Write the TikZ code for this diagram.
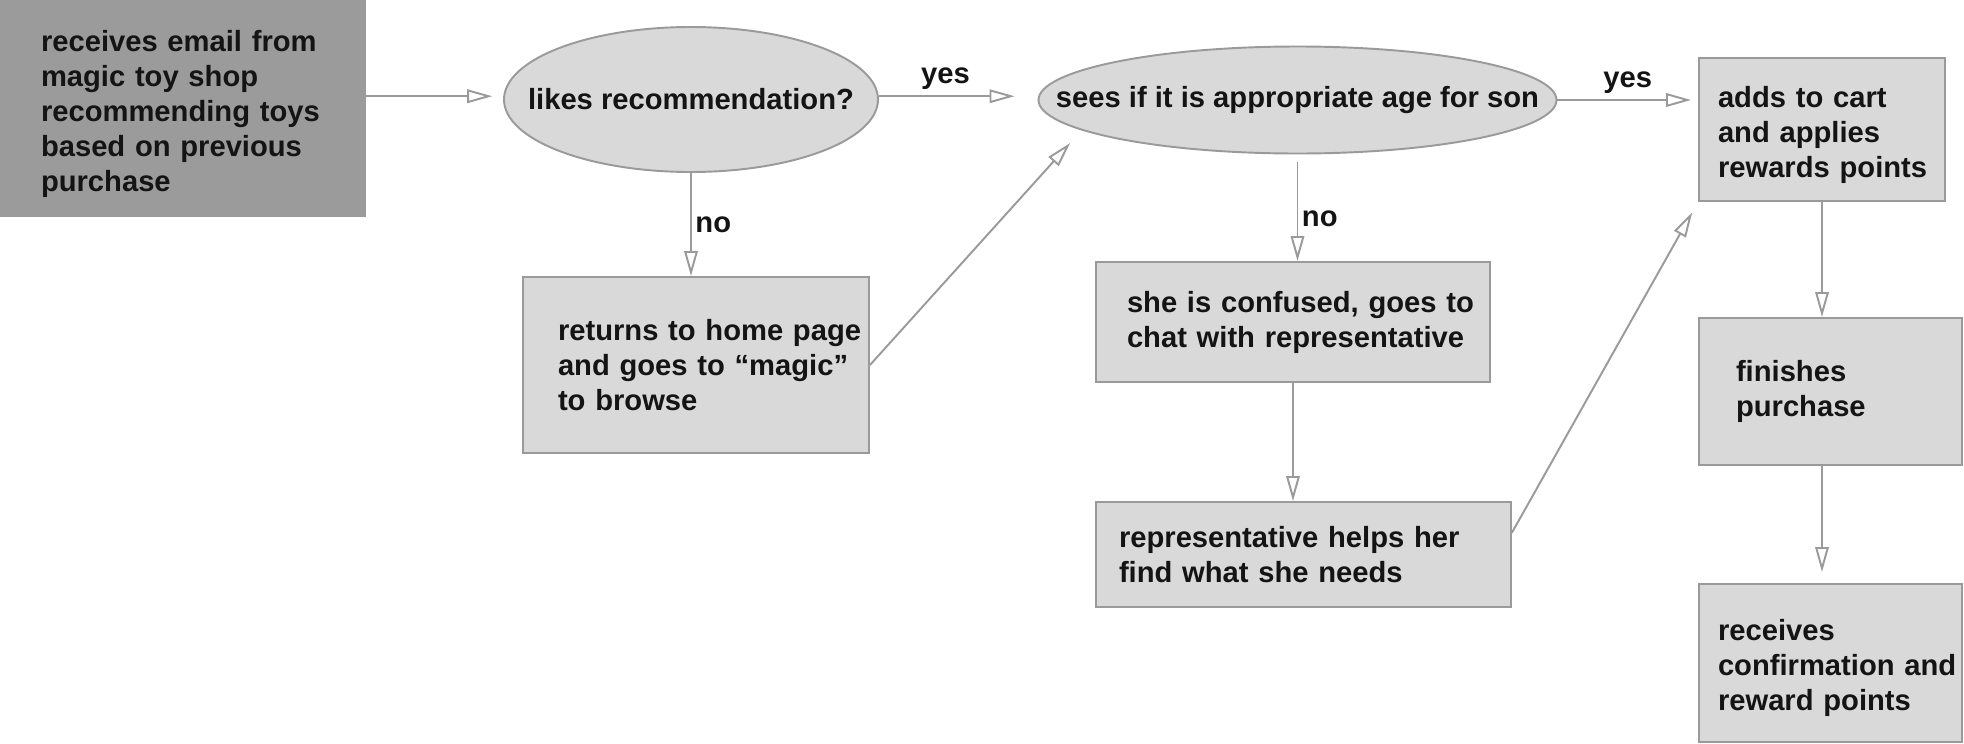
\documentclass[tikz,border=0pt]{standalone}
\usepackage{fontspec}
\setmainfont{Liberation Sans}
\usetikzlibrary{shapes.geometric, arrows.meta, positioning}
\definecolor{linegray}{HTML}{9A9A9A}
\definecolor{boxgray}{HTML}{D9D9D9}
\definecolor{mailgray}{HTML}{9B9B9B}
\definecolor{inkblack}{HTML}{141414}

\begin{document}
\begin{tikzpicture}[
  every node/.style={font=\bfseries\fontsize{16.6}{19.9}\selectfont, text=inkblack},
  mailbox/.style={rectangle, fill=mailgray, align=left},
  stepbox/.style={rectangle, draw=linegray, line width=1.1pt, fill=boxgray, align=left,
    execute at begin node={\hyphenpenalty=10000\relax}},
  decision/.style={ellipse, draw=linegray, line width=1.1pt, fill=boxgray},
  answer/.style={inner sep=2pt},
  arrow/.style={-{Triangle[open, length=0.5cm, width=0.27cm]}, line width=1.1pt, draw=linegray}
]
  \useasboundingbox (0,0) rectangle (39.28,-14.86);

  \node[mailbox, text width=5.68cm, inner xsep=0.82cm, minimum height=4.34cm, text height=0.65cm] (email) at (3.66,-2.17) {receives email from\\magic toy shop\\recommending toys\\based on previous\\purchase};
  \node[decision, minimum width=7.48cm, minimum height=2.90cm] (likes) at (13.82,-1.99) {\makebox[0pt]{likes recommendation?}};
  \node[decision, minimum width=10.36cm, minimum height=2.14cm] (sees) at (25.95,-2.00) {\makebox[0pt]{sees if it is appropriate age for son}};
  \node[stepbox, text width=5.52cm, inner xsep=0.70cm, minimum height=3.52cm] (home) at (13.92,-7.30) {returns~to~home~page\\and~goes~to~“magic”\\to browse};
  \node[stepbox, text width=6.64cm, inner xsep=0.62cm, minimum height=2.40cm] (chat) at (25.86,-6.44) {she~is~confused,~goes~to\\chat~with~representative};
  \node[stepbox, text width=7.38cm, inner xsep=0.46cm, minimum height=2.10cm] (helps) at (26.07,-11.09) {representative helps her\\find what she needs};
  \node[stepbox, text width=4.16cm, inner xsep=0.38cm, minimum height=2.86cm, text height=0.63cm] (cart) at (36.44,-2.59) {adds to cart\\and applies\\rewards~points};
  \node[stepbox, text width=3.78cm, inner xsep=0.74cm, minimum height=2.94cm] (finish) at (36.61,-7.83) {finishes\\purchase};
  \node[stepbox, text width=4.50cm, inner xsep=0.38cm, minimum height=3.16cm, text height=0.62cm] (confirm) at (36.61,-13.26) {receives\\confirmation~and\\reward points};

  \draw[arrow, shorten >=0.22cm] (email.east |- likes.179) -- (likes.179);
  \draw[arrow, shorten >=0.46cm] (likes.1) -- node[above, pos=0.42] (yesone) {yes} (likes.1 -| sees.west);
  \draw[arrow, shorten >=0.14cm] (sees.east) -- node[above] (yestwo) {yes} (sees.east -| cart.west);
  \draw[arrow] (likes.south) -- node[right, answer] (noone) {no} (likes.south |- home.north);
  \draw[arrow, shorten <=0.16cm] (sees.south) -- node[right, answer, pos=0.6] (notwo) {no} (sees.south |- chat.north);
  \draw[arrow, shorten >=0.34cm] (home.east) -- (sees.188);
  \draw[arrow] (chat.south) -- (chat.south |- helps.north);
  \draw[arrow, shorten >=0.24cm] (helps.6) -- (cart.south west);
  \draw[arrow] (cart.south) -- (cart.south |- finish.north);
  \draw[arrow, shorten >=0.22cm] (finish.south -| cart.south) -- (cart.south |- confirm.north);
\end{tikzpicture}
\end{document}
